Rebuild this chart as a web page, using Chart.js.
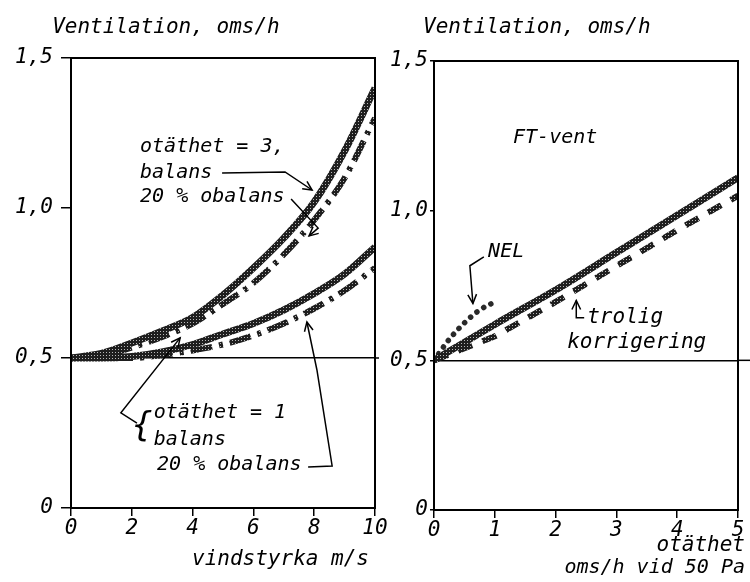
<!DOCTYPE html>
<html>
<head>
<meta charset="utf-8">
<script src="https://cdn.jsdelivr.net/npm/chart.js@4/dist/chart.umd.min.js"></script>
<style>
  html, body { margin: 0; padding: 0; background: #fff; }
  #wrap { position: relative; width: 750px; height: 582px; overflow: hidden; }
  canvas { position: absolute; top: 0; }
</style>
</head>
<body>
<div id="wrap">
  <canvas id="windChart" width="400" height="582" style="left:0"></canvas>
  <canvas id="ftChart" width="380" height="582" style="left:370px"></canvas>
</div>
<script>
// ---------- DATA: left panel (ventilation vs wind speed) ----------
const windSpeed     = [0, 1, 2, 3, 4, 5, 6, 7, 8, 9, 10];
const tight3Balans  = [0.50, 0.515, 0.55, 0.59, 0.635, 0.71, 0.80, 0.90, 1.02, 1.19, 1.40];
const tight3Obalans = [0.50, 0.505, 0.535, 0.57, 0.615, 0.68, 0.75, 0.845, 0.96, 1.10, 1.30];
const tight1Balans  = [0.50, 0.50, 0.505, 0.52, 0.545, 0.58, 0.615, 0.66, 0.715, 0.78, 0.87];
const tight1Obalans = [0.50, 0.50, 0.50, 0.51, 0.525, 0.545, 0.575, 0.615, 0.665, 0.725, 0.80];

// ---------- DATA: right panel (ventilation vs leakiness) ----------
const leakiness = [0, 1, 2, 3, 4, 5];
const ftVent    = [0.50, 0.62, 0.735, 0.86, 0.985, 1.11];
const ftTrolig  = [0.50, 0.58, 0.695, 0.815, 0.935, 1.05];
const nelX      = [0, 0.25, 0.5, 0.75, 1.05];
const nelY      = [0.50, 0.57, 0.625, 0.668, 0.70];

const FONT = "DejaVu Sans Mono";

const pts = (xs, ys) => xs.map((x, i) => ({ x: x, y: ys[i] }));
const fmt = v => v === 0 ? "0" : v.toFixed(1).replace(".", ",");

// grey stipple like the hatched tape lines of the original
function stipple() {
  const c = document.createElement("canvas");
  c.width = 3; c.height = 3;
  const g = c.getContext("2d");
  g.fillStyle = "#1e1e1e";
  g.fillRect(0, 0, 3, 3);
  g.fillStyle = "#b8b8b8";
  g.fillRect(1, 1, 1, 1);
  return g.createPattern(c, "repeat");
}
const tape = stipple();

// frame, texts and arrows
const notesPlugin = {
  id: "notes",
  afterDraw(chart, args, opts) {
    const { ctx, chartArea: a } = chart;
    const sx = chart.scales.x, sy = chart.scales.y;
    ctx.save();
    ctx.strokeStyle = "#000";
    ctx.lineWidth = 2;
    ctx.strokeRect(a.left, a.top, a.right - a.left, a.bottom - a.top);
    if (opts.extendHalf) {
      const y5 = sy.getPixelForValue(0.5);
      ctx.lineWidth = 1.5;
      ctx.beginPath();
      ctx.moveTo(a.right, y5);
      ctx.lineTo(a.right + opts.extendHalf, y5);
      ctx.stroke();
    }

    ctx.fillStyle = "#000";
    ctx.textBaseline = "middle";
    (opts.texts || []).forEach(t => {
      ctx.textAlign = t.align || "left";
      ctx.font = "italic " + (t.size || 20) + "px '" + FONT + "'";
      ctx.fillText(t.text, sx.getPixelForValue(t.x), sy.getPixelForValue(t.y));
    });

    ctx.lineWidth = 1.5;
    (opts.arrows || []).forEach(line => {
      const p = line.map(q => [sx.getPixelForValue(q[0]), sy.getPixelForValue(q[1])]);
      ctx.beginPath();
      p.forEach((q, i) => i ? ctx.lineTo(q[0], q[1]) : ctx.moveTo(q[0], q[1]));
      ctx.stroke();
      const [x1, y1] = p[p.length - 2], [x2, y2] = p[p.length - 1];
      const ang = Math.atan2(y2 - y1, x2 - x1);
      ctx.beginPath();
      ctx.moveTo(x2 - 10 * Math.cos(ang - 0.45), y2 - 10 * Math.sin(ang - 0.45));
      ctx.lineTo(x2, y2);
      ctx.lineTo(x2 - 10 * Math.cos(ang + 0.45), y2 - 10 * Math.sin(ang + 0.45));
      ctx.stroke();
    });
    ctx.restore();
  }
};

function axisY(width, tickLen, pad) {
  return {
    type: "linear", min: 0, max: 1.5,
    afterFit: s => { s.width = width; },
    border: { color: "#000", width: 2 },
    grid: {
      color: c => c.tick && c.tick.value === 0.5 ? "#000" : "rgba(0,0,0,0)",
      tickColor: "#000", lineWidth: 1.5, tickLength: tickLen
    },
    ticks: {
      stepSize: 0.5, padding: pad, color: "#000",
      font: { family: FONT, style: "italic", size: 21 },
      callback: fmt
    }
  };
}

function axisX(max, step, height) {
  return {
    type: "linear", min: 0, max: max,
    afterFit: s => { s.height = height; },
    border: { color: "#000", width: 2 },
    grid: { drawOnChartArea: false, tickColor: "#000", lineWidth: 1.5, tickLength: 8 },
    ticks: {
      stepSize: step, padding: 0, color: "#000", maxRotation: 0,
      font: { family: FONT, style: "italic", size: 21 }
    }
  };
}

const solid = { borderColor: tape, borderWidth: 7, pointRadius: 0, cubicInterpolationMode: "monotone" };
const dashDot = { borderColor: tape, borderWidth: 6, pointRadius: 0, borderDash: [22, 7, 4, 7], cubicInterpolationMode: "monotone" };

// ---------- LEFT: vindstyrka ----------
new Chart(document.getElementById("windChart"), {
  type: "line",
  data: {
    datasets: [
      Object.assign({ label: "otäthet = 3, balans", data: pts(windSpeed, tight3Balans) }, solid),
      Object.assign({ label: "otäthet = 3, 20 % obalans", data: pts(windSpeed, tight3Obalans) }, dashDot),
      Object.assign({ label: "otäthet = 1, balans", data: pts(windSpeed, tight1Balans) }, solid),
      Object.assign({ label: "otäthet = 1, 20 % obalans", data: pts(windSpeed, tight1Obalans) }, dashDot)
    ]
  },
  options: {
    responsive: false,
    animation: false,
    layout: { padding: { left: 0, right: 25, top: 58, bottom: 0 } },
    scales: { x: axisX(10, 2, 74), y: axisY(71, 10, 8) },
    plugins: {
      legend: { display: false },
      tooltip: { enabled: false },
      notes: {
        extendHalf: 4,
        texts: [
          { text: "Ventilation, oms/h", x: -0.62, y: 1.603, size: 21 },
          { text: "otäthet = 3,", x: 2.27, y: 1.203 },
          { text: "balans", x: 2.27, y: 1.117 },
          { text: "20 % obalans", x: 2.27, y: 1.037 },
          { text: "{", x: 2.34, y: 0.27, size: 34, align: "center" },
          { text: "otäthet = 1", x: 2.72, y: 0.317 },
          { text: "balans", x: 2.72, y: 0.227 },
          { text: "20 % obalans", x: 2.83, y: 0.143 },
          { text: "vindstyrka m/s", x: 3.98, y: -0.173, size: 21 }
        ],
        arrows: [
          [[4.97, 1.117], [7.04, 1.12], [7.93, 1.06]],
          [[7.24, 1.03], [8.13, 0.933], [7.83, 0.907]],
          [[2.17, 0.283], [1.64, 0.317], [3.59, 0.567]],
          [[7.80, 0.137], [8.59, 0.14], [8.09, 0.46], [7.76, 0.62]]
        ]
      }
    }
  },
  plugins: [notesPlugin]
});

// ---------- RIGHT: otäthet ----------
new Chart(document.getElementById("ftChart"), {
  type: "line",
  data: {
    datasets: [
      Object.assign({ label: "FT-vent", data: pts(leakiness, ftVent) }, solid),
      { label: "trolig korrigering", data: pts(leakiness, ftTrolig), borderColor: tape,
        borderWidth: 6, pointRadius: 0, borderDash: [15, 11] },
      { label: "NEL", data: pts(nelX, nelY), borderColor: "#2a2a2a", borderWidth: 5.5,
        pointRadius: 0, borderDash: [0.1, 8], borderCapStyle: "round", cubicInterpolationMode: "monotone" }
    ]
  },
  options: {
    responsive: false,
    animation: false,
    layout: { padding: { left: 0, right: 12, top: 61, bottom: 0 } },
    scales: { x: axisX(5, 1, 72), y: axisY(64, 4, 2) },
    plugins: {
      legend: { display: false },
      tooltip: { enabled: false },
      notes: {
        extendHalf: 12,
        texts: [
          { text: "Ventilation, oms/h", x: -0.18, y: 1.612, size: 21 },
          { text: "FT-vent", x: 1.30, y: 1.244 },
          { text: "NEL", x: 0.89, y: 0.863 },
          { text: "trolig", x: 2.52, y: 0.642, size: 21 },
          { text: "korrigering", x: 2.19, y: 0.558, size: 21 },
          { text: "otäthet", x: 5.115, y: -0.12, align: "right", size: 21 },
          { text: "oms/h vid 50 Pa", x: 5.115, y: -0.194, align: "right" }
        ],
        arrows: [
          [[0.82, 0.846], [0.59, 0.816], [0.64, 0.69]],
          [[2.47, 0.642], [2.34, 0.642], [2.34, 0.70]]
        ]
      }
    }
  },
  plugins: [notesPlugin]
});
</script>
</body>
</html>
